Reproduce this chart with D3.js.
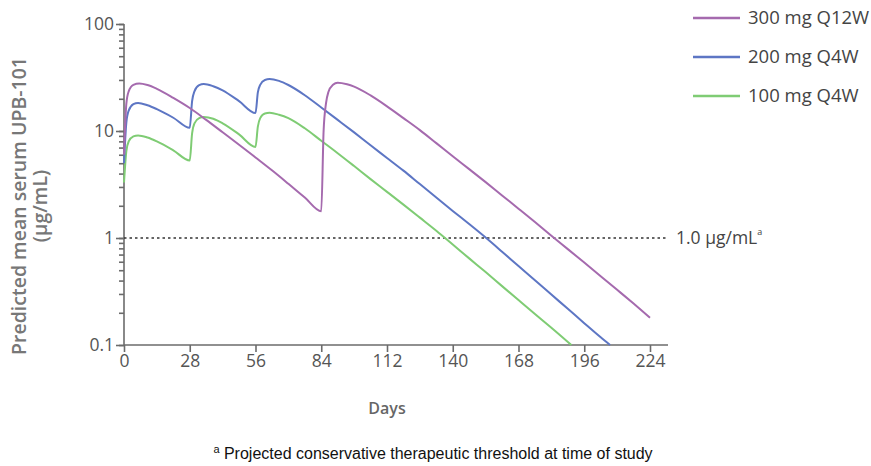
<!DOCTYPE html>
<html>
<head>
<meta charset="utf-8">
<script src="https://cdn.jsdelivr.net/npm/d3@7"></script>
<style>
  body { margin: 0; background: #fff; }
  svg { font-family: "Open Sans", "Noto Sans", sans-serif; }
  .axis path, .axis line { stroke: #6b6b6b; stroke-width: 1.6; }
  .axis text { fill: #555; font-size: 17.5px; font-family: "Open Sans", sans-serif; }
</style>
</head>
<body>
<svg id="chart"></svg>
<script>
// series: [day, µg/mL]
const days300 = [0, 1, 2, 4, 6.5, 10, 14, 21, 28, 35, 42, 49, 56, 63, 70, 77, 84, 85, 86, 87, 89, 91, 95, 98, 105, 112, 119, 126, 133, 140, 147, 154, 161, 168, 175, 182, 189, 196, 203, 210, 217, 224];
const vals300 = [6, 18, 23.5, 27, 27.8, 26.9, 24.8, 20.4, 16.4, 12.7, 9.73, 7.45, 5.66, 4.29, 3.21, 2.39, 1.78, 10, 18, 23, 27, 28.2, 27.3, 26, 21.5, 17, 13.2, 10.2, 7.7, 5.8, 4.4, 3.33, 2.5, 1.88, 1.41, 1.05, 0.787, 0.589, 0.44, 0.328, 0.244, 0.18];

const days200 = [0, 1, 2, 4, 6, 10, 14, 21, 28, 29, 30, 32, 34, 38, 42, 49, 56, 57, 58, 60, 62, 66, 70, 77, 84, 91, 98, 105, 112, 119, 126, 133, 140, 147, 154, 161, 168, 175, 182, 189, 196, 203, 207];
const vals200 = [5, 12, 15.5, 17.8, 18.3, 17.4, 16, 13.3, 10.7, 19, 23.5, 26.8, 27.5, 26.2, 24, 19, 14.7, 23, 27, 30, 30.6, 29.4, 26.9, 21.6, 16.6, 12.7, 9.7, 7.35, 5.6, 4.26, 3.19, 2.39, 1.79, 1.35, 1.01, 0.745, 0.547, 0.403, 0.296, 0.218, 0.16, 0.118, 0.1];

const days100 = [0, 1, 2, 4, 6, 10, 14, 21, 28, 29, 30, 32, 34, 38, 42, 49, 56, 57, 58, 60, 62, 66, 70, 77, 84, 91, 98, 105, 112, 119, 126, 133, 140, 147, 154, 161, 168, 175, 182, 190.5];
const vals100 = [3.3, 6.5, 8, 8.9, 9.1, 8.7, 8.0, 6.6, 5.3, 9.5, 11.8, 13.2, 13.5, 13, 11.8, 9.3, 7.1, 11, 13.2, 14.6, 14.8, 14.2, 13.2, 10.6, 8.1, 6.2, 4.7, 3.55, 2.7, 2.05, 1.55, 1.17, 0.87, 0.645, 0.48, 0.355, 0.263, 0.195, 0.145, 0.1];

const seriesNames = ["300 mg Q12W", "200 mg Q4W", "100 mg Q4W"];
const seriesColors = ["#a56aae", "#5d76c4", "#7fcc74"];
const xTicks = [0, 28, 56, 84, 112, 140, 168, 196, 224];
const yTicks = [0.1, 1, 10, 100];
const threshold = 1;

const series = [
  days300.map((d, i) => ({ day: d, val: vals300[i] })),
  days200.map((d, i) => ({ day: d, val: vals200[i] })),
  days100.map((d, i) => ({ day: d, val: vals100[i] }))
];

const config = { width: 871, height: 466, margin: { top: 24, left: 124, right: 221, bottom: 121 } };
const width = config.width - config.margin.left - config.margin.right;
const height = config.height - config.margin.top - config.margin.bottom;

const svg = d3.select("#chart")
  .attr("width", config.width)
  .attr("height", config.height);

const chart = svg.append("g")
  .attr("transform", `translate(${config.margin.left},${config.margin.top})`);

const xScale = d3.scaleLinear().domain([0, 224]).range([0, width]);
const yScale = d3.scaleLog().domain([0.1, 100]).range([height, 0]);

// minor ticks on the log axis
chart.append("g")
  .attr("class", "axis")
  .call(d3.axisLeft(yScale).tickValues(yScale.ticks()).tickSize(5).tickFormat(""))
  .call(g => g.select(".domain").remove());

chart.append("g")
  .attr("class", "axis")
  .call(d3.axisLeft(yScale).tickValues(yTicks).tickSize(8).tickPadding(2).tickFormat(d3.format("~g")))
  .call(g => g.select(".domain").attr("d", `M0,${height}V0`));

chart.append("g")
  .attr("class", "axis")
  .attr("transform", `translate(0,${height})`)
  .call(d3.axisBottom(xScale).tickValues(xTicks).tickSize(7).tickPadding(3))
  .call(g => g.select(".domain").attr("d", `M0,0H${width + 18}`));

// threshold line
chart.append("line")
  .attr("x1", 0).attr("x2", width + 16)
  .attr("y1", yScale(threshold)).attr("y2", yScale(threshold))
  .attr("stroke", "#333").attr("stroke-width", 1.4)
  .attr("stroke-dasharray", "2.5,3");

const thrLabel = chart.append("text")
  .attr("x", width + 26).attr("y", yScale(threshold) + 6)
  .attr("fill", "#444").style("font-size", "17.5px")
  .text("1.0 µg/mL");
thrLabel.append("tspan").attr("dy", -9).style("font-size", "9px").text("a");

const line = d3.line()
  .x(d => xScale(d.day))
  .y(d => yScale(d.val))
  .curve(d3.curveMonotoneX);

series.slice().reverse().forEach((s, i) => {
  chart.append("path")
    .datum(s)
    .attr("fill", "none")
    .attr("stroke", seriesColors[2 - i])
    .attr("stroke-width", 2)
    .attr("d", line);
});

// legend
const legend = svg.append("g").attr("transform", "translate(693,18)");
seriesNames.forEach((name, i) => {
  const g = legend.append("g").attr("transform", `translate(0,${i * 39})`);
  g.append("line").attr("x1", 0).attr("x2", 47).attr("y1", 0).attr("y2", 0)
    .attr("stroke", seriesColors[i]).attr("stroke-width", 2.5);
  g.append("text").attr("x", 55).attr("y", 6)
    .attr("fill", "#444").style("font-size", "18.5px").text(name);
});

// axis titles
svg.append("text")
  .attr("x", config.margin.left + xScale(112)).attr("y", 414)
  .attr("text-anchor", "middle")
  .attr("fill", "#666").style("font-size", "16px").style("font-weight", 600)
  .text("Days");

const yTitle = svg.append("text")
  .attr("transform", "translate(0,206) rotate(-90)")
  .attr("text-anchor", "middle")
  .attr("fill", "#777").style("font-size", "19.5px").style("font-weight", 600);
yTitle.append("tspan").attr("x", 0).attr("y", 26).text("Predicted mean serum UPB-101");
yTitle.append("tspan").attr("x", 0).attr("y", 47).text("(µg/mL)");

// footnote
const note = svg.append("text")
  .attr("x", 433).attr("y", 459)
  .attr("text-anchor", "middle")
  .attr("fill", "#111")
  .style("font-family", "'Liberation Sans', Arial, sans-serif")
  .style("font-size", "16px");
note.append("tspan").attr("dy", -6).style("font-size", "11px").text("a");
note.append("tspan").attr("dy", 6).text(" Projected conservative therapeutic threshold at time of study");
</script>
</body>
</html>
